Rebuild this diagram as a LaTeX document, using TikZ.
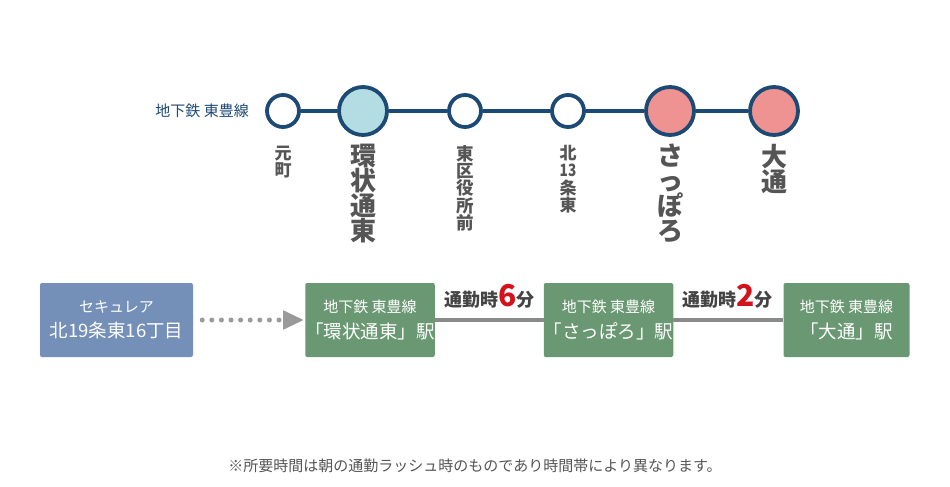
\documentclass[tikz,border=0pt]{standalone}
\usepackage{fontspec}
\setmainfont{Noto Sans CJK JP}
\usetikzlibrary{arrows.meta}
\definecolor{navy}{HTML}{1D4A75}
\definecolor{lblue}{HTML}{B3DDE3}
\definecolor{pinkst}{HTML}{EF9292}
\definecolor{boxblue}{HTML}{7490B8}
\definecolor{boxgreen}{HTML}{6A9872}
\definecolor{lgray}{HTML}{8A8A8A}
\definecolor{dotgray}{HTML}{9A9A9A}
\definecolor{tgray}{HTML}{555555}
\definecolor{lblgray}{HTML}{444444}
\definecolor{redn}{HTML}{D3121B}
\tikzset{
  small/.style={circle,draw=navy,line width=3.8pt,fill=white,minimum size=32pt,inner sep=0pt},
  big/.style={circle,draw=navy,line width=3.8pt,minimum size=48pt,inner sep=0pt},
  stlabel/.style={anchor=north,align=center,text=tgray,inner sep=0pt},
  infobox/.style={rounded corners=2pt,minimum width=126pt,minimum height=74pt,text=white,align=center,inner sep=0pt},
  timelbl/.style={anchor=south,inner sep=0pt,font=\bfseries\fontsize{18}{19}\selectfont,text=lblgray}
}
\newcommand{\boxtxt}[2]{{\fontsize{15}{16}\selectfont #1}\\[8pt]{\fontsize{18.5}{20}\selectfont #2}}
\begin{document}
\begin{tikzpicture}[x=1pt,y=-1pt]
\useasboundingbox[fill=white] (0,0) rectangle (950,487);
% line label
\node[anchor=east,text=navy,font=\fontsize{15}{16}\selectfont,inner sep=0pt] (line) at (249,111) {地下鉄 東豊線};
% stations
\node[small] (s1) at (283,111) {};
\node[big,fill=lblue] (s2) at (363,111) {};
\node[small] (s3) at (465,111) {};
\node[small] (s4) at (568,111) {};
\node[big,fill=pinkst] (s5) at (670,111) {};
\node[big,fill=pinkst] (s6) at (774,111) {};
\foreach \a/\b in {s1/s2,s2/s3,s3/s4,s4/s5,s5/s6}
  \draw[navy,line width=3.8pt] (\a) -- (\b);
% station names (vertical)
\node[stlabel,font=\bfseries\fontsize{17}{17}\selectfont] (n1) at (283,146) {元\\町};
\node[stlabel,font=\bfseries\fontsize{26}{25}\selectfont] (n2) at (363,144) {環\\状\\通\\東};
\node[stlabel,font=\bfseries\fontsize{17.5}{17.4}\selectfont] (n3) at (465,145) {東\\区\\役\\所\\前};
\node[stlabel,font=\bfseries\fontsize{17}{17.5}\selectfont] (n4) at (568,145) {北\\\scalebox{0.8}[1]{13}\\条\\東};
\node[stlabel,font=\bfseries\fontsize{26}{25}\selectfont] (n5) at (670,144) {さ\\っ\\ぽ\\ろ};
\node[stlabel,font=\bfseries\fontsize{26}{25}\selectfont] (n6) at (774,144) {大\\通};
% boxes
\node[infobox,fill=boxblue,minimum width=153pt] (home) at (116.5,320) {\boxtxt{セキュレア}{北19条東16丁目}};
\node[infobox,fill=boxgreen] (g1) at (370,320) {\boxtxt{地下鉄 東豊線}{「環状通東」駅}};
\node[infobox,fill=boxgreen] (g2) at (608.5,320) {\boxtxt{地下鉄 東豊線}{「さっぽろ」駅}};
\node[infobox,fill=boxgreen] (g3) at (846.5,320) {\boxtxt{地下鉄 東豊線}{「大通」駅}};
% connectors
\draw[dotgray,line width=5pt,line cap=round,dash pattern=on 0pt off 9.6pt,-{Triangle[length=21pt,width=18pt]},shorten <=9pt,shorten >=1pt] (home) -- (g1);
\draw[lgray,line width=4.5pt] (g1) -- (g2);
\draw[lgray,line width=4.5pt] (g2) -- (g3);
% time labels
\node[timelbl] (t1) at (489.5,309) {通勤時{\color{redn}\fontsize{30}{30}\selectfont 6}分};
\node[timelbl] (t2) at (727.5,309) {通勤時{\color{redn}\fontsize{30}{30}\selectfont 2}分};
% footnote
\node[text=tgray,font=\fontsize{15}{16}\selectfont,inner sep=0pt] (note) at (475,466) {※所要時間は朝の通勤ラッシュ時のものであり時間帯により異なります。};
\end{tikzpicture}
\end{document}
